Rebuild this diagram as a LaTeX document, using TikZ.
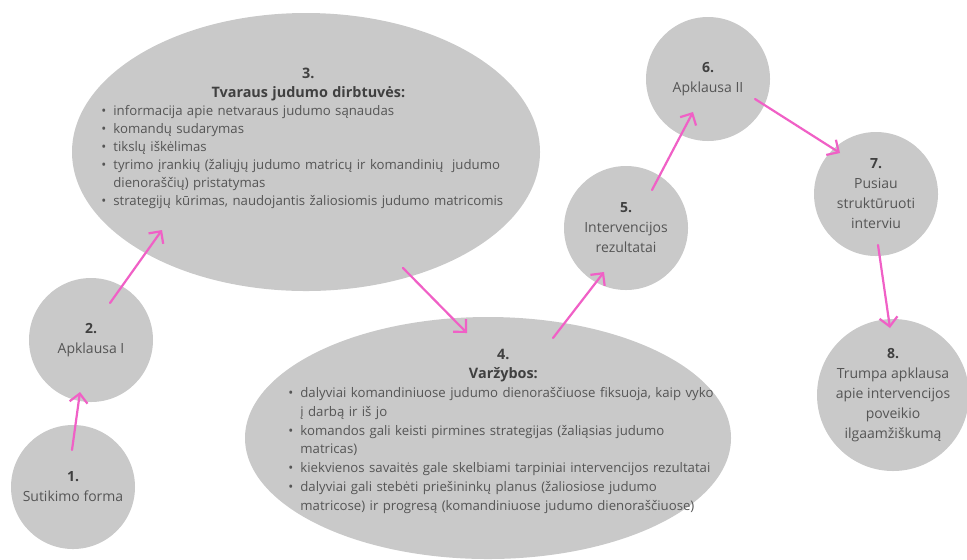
\documentclass[tikz,border=0pt]{standalone}
\usepackage{fontspec}
\setmainfont{Open Sans}
\usepackage{enumitem}
\usetikzlibrary{arrows.meta, shapes.geometric}
\definecolor{StageGray}{HTML}{C9C9C9}
\definecolor{FlowPink}{HTML}{F060C6}
\definecolor{TextGray}{HTML}{555555}
\definecolor{TextDark}{HTML}{404040}
\setlist[itemize]{label=\textbullet, leftmargin=6.5pt, labelwidth=3pt, labelsep=3.5pt,
    itemsep=0pt, parsep=0pt, topsep=0pt, partopsep=0pt}

\begin{document}
\begin{tikzpicture}[
    x=0.5pt, y=-0.5pt,
    >={Straight Barb[length=4.5pt, width=9pt]},
    % Stage Styles
    stage/.style={fill=StageGray, draw=none, inner sep=0pt},
    roundstage/.style={stage, circle, minimum size=62pt, align=center,
        text=TextGray, font=\fontsize{7}{10}\selectfont},
    bigstage/.style={stage, ellipse},
    stagenote/.style={anchor=north west, inner sep=0pt, align=left,
        text=TextGray, font=\fontsize{6.6}{9}\selectfont},
    % Connector Style
    flow/.style={->, FlowPink, line width=1.1pt, line cap=round}
]
    \path[use as bounding box] (0,0) rectangle (967,559);

    % ==========================================
    % STAGES
    % ==========================================
    \node[roundstage] (s1) at (73,487) {\textbf{\color{TextDark}1.}\\Sutikimo forma};
    \node[roundstage] (s2) at (91,340) {\textbf{\color{TextDark}2.}\\Apklausa I};

    \node[bigstage, minimum width=234pt, minimum height=139pt] (s3) at (306,152) {};
    \node[stagenote, text width=208pt] (t3) at ([shift={(-206,-84)}]s3.center) {%
        {\centering\fontsize{7.2}{9.5}\selectfont\bfseries\color{TextDark}3.\\Tvaraus judumo dirbtuvės:\par}
        \begin{itemize}
            \item informacija apie netvaraus judumo sąnaudas
            \item komandų sudarymas
            \item tikslų iškėlimas
            \item tyrimo įrankių (žaliųjų judumo matricų ir komandinių~ judumo\newline
                  dienoraščių) pristatymas
            \item strategijų kūrimas, naudojantis žaliosiomis judumo matricomis
        \end{itemize}};

    \node[bigstage, minimum width=243pt, minimum height=121pt] (s4) at (488,438) {};
    \node[stagenote, text width=216pt, font=\fontsize{6.6}{9.4}\selectfont] (t4)
        at ([shift={(-201,-89)}]s4.center) {%
        {\centering\fontsize{7.2}{9.5}\selectfont\bfseries\color{TextDark}4.\\Varžybos:\par}
        \begin{itemize}
            \item dalyviai komandiniuose judumo dienoraščiuose fiksuoja, kaip vyko\newline
                  į darbą ir iš jo
            \item komandos gali keisti pirmines strategijas (žaliąsias judumo\newline
                  matricas)
            \item kiekvienos savaitės gale skelbiami tarpiniai intervencijos rezultatai
            \item dalyviai gali stebėti priešininkų planus (žaliosiose judumo\newline
                  matricose) ir progresą (komandiniuose judumo dienoraščiuose)
        \end{itemize}};

    \node[roundstage] (s5) at (626,228) {\textbf{\color{TextDark}5.}\\Intervencijos\\rezultatai};
    \node[roundstage] (s6) at (708,79) {\textbf{\color{TextDark}6.}\\Apklausa II};
    \node[roundstage] (s7) at (876,194) {\textbf{\color{TextDark}7.}\\Pusiau\\struktūruoti\\interviu};
    \node[roundstage, minimum size=76pt, inner sep=-3pt] (s8) at (893,395)
        {\textbf{\color{TextDark}8.}\\Trumpa apklausa\\apie intervencijos\\poveikio\\ilgaamžiškumą};

    % ==========================================
    % FLOW
    % ==========================================
    \draw[flow] ([shift={(-1,-37)}]s1.center) -- ([shift={(-11,52)}]s2.center);
    \draw[flow] ([shift={(19,-37)}]s2.center) -- ([shift={(-144,78)}]s3.center);
    \draw[flow] ([shift={(97,116)}]s3.center) -- ([shift={(-21,-105)}]s4.center);
    \draw[flow] ([shift={(65,-100)}]s4.center) -- ([shift={(-22,44)}]s5.center);
    \draw[flow] ([shift={(26,-38)}]s5.center) -- ([shift={(-15,33)}]s6.center);
    \draw[flow] ([shift={(47,20)}]s6.center) -- ([shift={(-36,-41)}]s7.center);
    \draw[flow] ([shift={(2,51)}]s7.center) -- ([shift={(-3,-67)}]s8.center);

\end{tikzpicture}
\end{document}
